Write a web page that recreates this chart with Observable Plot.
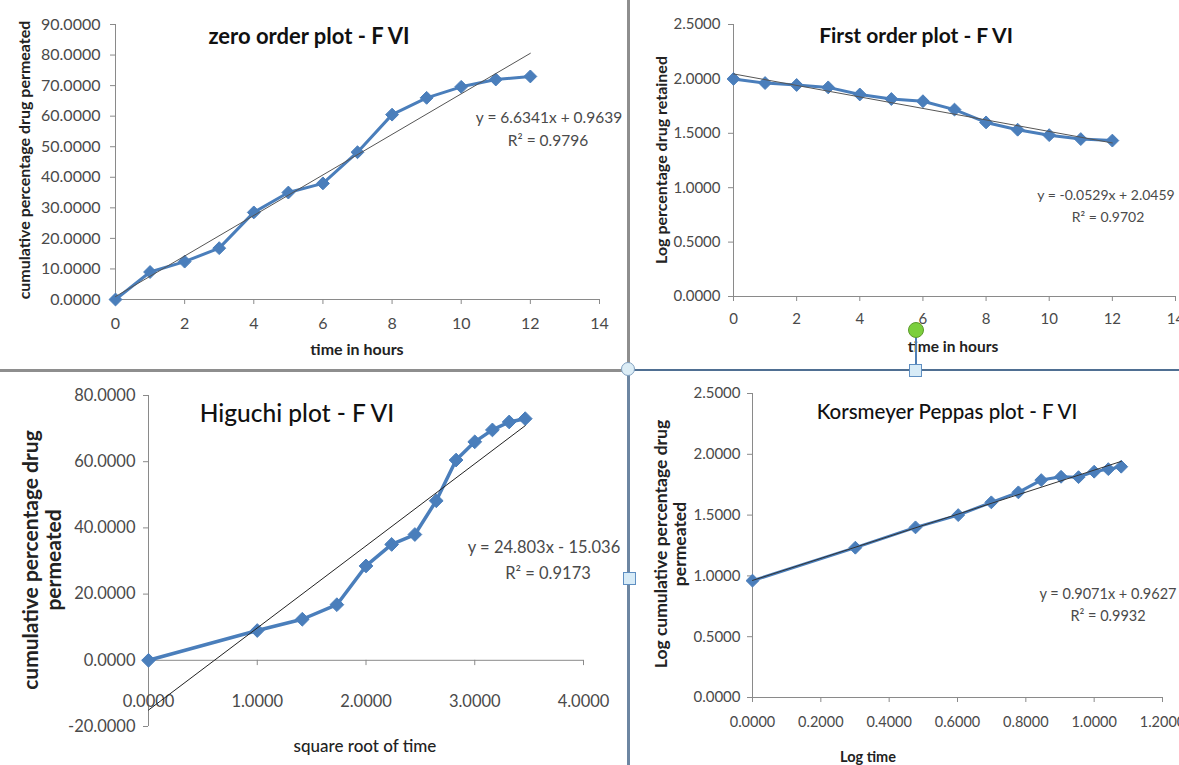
<!DOCTYPE html>
<html><head><meta charset="utf-8">
<script src="https://cdn.jsdelivr.net/npm/d3@7"></script>
<script src="https://cdn.jsdelivr.net/npm/@observablehq/plot@0.6"></script>
<style>
body{margin:0;background:#fff;}
#root{position:relative;width:1179px;height:765px;overflow:hidden;background:#fff;font-family:Lato,"Open Sans",sans-serif;color:#404040}
.t{position:absolute;white-space:nowrap;transform:translate(-50%,-50%);line-height:1.1;text-align:center}
.rot{transform:translate(-50%,-50%) rotate(-90deg)}
.pan{position:absolute}
.pan svg{overflow:visible}
.hl{position:absolute}
</style></head><body><div id="root"></div>
<script>
// ---- data ----
const hours = [0, 1, 2, 3, 4, 5, 6, 7, 8, 9, 10, 11, 12];
const cumPermeated = [0, 9.0, 12.4, 16.8, 28.5, 35.0, 38.0, 48.2, 60.5, 66.0, 69.6, 72.0, 73.0];
const logRetained = [2.000, 1.962, 1.944, 1.922, 1.857, 1.815, 1.795, 1.718, 1.600, 1.533, 1.483, 1.447, 1.433];
const sqrtTime = [0, 1.0000, 1.4142, 1.7321, 2.0000, 2.2361, 2.4495, 2.6458, 2.8284, 3.0000, 3.1623, 3.3166, 3.4641];
const logTime = [0.0000, 0.3010, 0.4771, 0.6021, 0.6990, 0.7782, 0.8451, 0.9031, 0.9542, 1.0000, 1.0414, 1.0792];
const logCumPermeated = [0.961, 1.232, 1.399, 1.500, 1.605, 1.687, 1.788, 1.815, 1.812, 1.857, 1.878, 1.898];
// trendline equations shown on the chart
const fitSlopes = [6.6341, -0.0529, 24.803, 0.9071];
const fitIntercepts = [0.9639, 2.0459, -15.036, 0.9627];
const fitR2 = ["0.9796", "0.9702", "0.9173", "0.9932"];
const titles = ["zero order plot - F VI", "First order plot - F VI", "Higuchi plot - F VI", "Korsmeyer Peppas plot - F VI"];
const equations = ["y = 6.6341x + 0.9639", "y = -0.0529x + 2.0459", "y = 24.803x - 15.036", "y = 0.9071x + 0.9627"];
const zeroTicksX = [0, 2, 4, 6, 8, 10, 12, 14];
const zeroTicksY = [0, 10, 20, 30, 40, 50, 60, 70, 80, 90];
const firstTicksY = [0, 0.5, 1.0, 1.5, 2.0, 2.5];
const higuchiTicksX = [0, 1, 2, 3, 4];
const higuchiTicksY = [-20, 0, 20, 40, 60, 80];
const kpTicksX = [0, 0.2, 0.4, 0.6, 0.8, 1.0, 1.2];
const kpTicksY = [0, 0.5, 1.0, 1.5, 2.0, 2.5];

const root = document.getElementById("root");
const BLUE = "#4a7ebb", AX = "#8a8a8a", TXT = "#4a4a4a";
const f4 = d => d.toFixed(4);

function addText(html, x, y, style, rot) {
  const d = document.createElement("div");
  d.className = "t" + (rot ? " rot" : "");
  d.innerHTML = html;
  d.style.left = x + "px"; d.style.top = y + "px";
  Object.assign(d.style, style || {});
  root.appendChild(d);
}

function panel(c) {
  const xs = c.xs, ys = c.ys, k = c.k;
  const data = xs.map((x, i) => ({x, y: ys[i]}));
  const xmin = d3.min(xs), xmax = d3.max(xs);
  const fit = [xmin, xmax].map(x => ({x, y: fitSlopes[k] * x + fitIntercepts[k]}));
  const marks = [
    Plot.ruleX([c.xDomain[0]], {y1: c.yDomain[0], y2: c.yDomain[1], stroke: AX}),
    Plot.ruleY([c.xAxisAt], {x1: c.xDomain[0], x2: c.xDomain[1], stroke: AX}),
    Plot.axisY({ticks: c.yTicks, tickFormat: f4, tickSize: 5, tickPadding: c.yPad, fontSize: c.yFs, stroke: AX, fill: TXT, label: null})
  ];
  if (c.xAxisAt === c.yDomain[0]) {
    marks.push(Plot.axisX({ticks: c.xTicks, tickFormat: c.xFmt, tickSize: 5, tickPadding: c.xPad, fontSize: c.xFs, stroke: AX, fill: TXT, label: null}));
  } else {
    marks.push(Plot.ruleX(c.xTicks, {x: d => d, y1: c.xAxisAt, y2: c.xAxisAt - c.tickLen, stroke: AX}));
    marks.push(Plot.text(c.xTicks, {x: d => d, y: c.xAxisAt, text: c.xFmt, dy: c.xPad, fontSize: c.xFs, fill: TXT}));
  }
  marks.push(
    Plot.line(data, {x: "x", y: "y", stroke: BLUE, strokeWidth: c.sw}),
    Plot.dot(data, {x: "x", y: "y", symbol: "diamond2", r: c.r, fill: BLUE, stroke: BLUE, strokeWidth: 1}),
    Plot.line(fit, {x: "x", y: "y", stroke: c.fitColor, strokeWidth: 1})
  );
  const svg = Plot.plot({
    width: c.box[2], height: c.box[3],
    marginLeft: c.frame[0] - c.box[0], marginRight: c.box[0] + c.box[2] - c.frame[1],
    marginTop: c.frame[2] - c.box[1], marginBottom: c.box[1] + c.box[3] - c.frame[3],
    x: {domain: c.xDomain, axis: null},
    y: {domain: c.yDomain, axis: null},
    style: {fontFamily: "Lato, 'Open Sans', sans-serif", background: "transparent", overflow: "visible"},
    marks
  });
  const wrap = document.createElement("div");
  wrap.className = "pan";
  wrap.style.left = c.box[0] + "px"; wrap.style.top = c.box[1] + "px";
  wrap.appendChild(svg);
  root.appendChild(wrap);
}

// box: [left, top, width, height]; frame: [xLeftPx, xRightPx, yTopPx, yBottomPx]
panel({k: 0, xs: hours, ys: cumPermeated, box: [0, 0, 627, 368], frame: [115, 599, 24, 299],
  xDomain: [0, 14], yDomain: [0, 90], xAxisAt: 0, xTicks: zeroTicksX, yTicks: zeroTicksY,
  xFmt: d => String(d), xPad: 13, yPad: 10, xFs: 16, yFs: 16, sw: 3, r: 5.8, fitColor: "#555"});
panel({k: 1, xs: hours, ys: logRetained, box: [631, 0, 548, 368], frame: [733, 1175, 24, 296],
  xDomain: [0, 14], yDomain: [0, 2.5], xAxisAt: 0, xTicks: zeroTicksX, yTicks: firstTicksY,
  xFmt: d => String(d), xPad: 12, yPad: 8, xFs: 15, yFs: 15, sw: 3, r: 5.8, fitColor: "#555"});
panel({k: 2, xs: sqrtTime, ys: cumPermeated, box: [0, 372, 627, 393], frame: [148, 583, 395, 726],
  xDomain: [0, 4], yDomain: [-20, 80], xAxisAt: 0, tickLen: 1.6, xTicks: higuchiTicksX, yTicks: higuchiTicksY,
  xFmt: f4, xPad: 41, yPad: 8, xFs: 16.5, yFs: 16.5, sw: 3.5, r: 6.2, fitColor: "#222"});
panel({k: 3, xs: logTime, ys: logCumPermeated, box: [631, 372, 548, 393], frame: [752, 1162, 393, 697],
  xDomain: [0, 1.2], yDomain: [0, 2.5], xAxisAt: 0, xTicks: kpTicksX, yTicks: kpTicksY,
  xFmt: f4, xPad: 14, yPad: 7, xFs: 14.5, yFs: 15, sw: 3, r: 5.8, fitColor: "#333"});

// ---- titles, axis titles, equations ----
addText(titles[0], 309, 36, {fontWeight: "700", color: "#111", fontSize: "22px"});
addText(titles[1], 916, 35, {fontWeight: "700", color: "#111", fontSize: "21px"});
addText(titles[2], 297, 413, {fontWeight: "500", color: "#111", fontSize: "24.5px"});
addText(titles[3], 947, 411, {fontWeight: "500", color: "#111", fontSize: "20.5px"});

addText("cumulative percentage drug permeated", 24, 160, {fontWeight: "700", color: "#222", fontSize: "16px"}, true);
addText("time in hours", 357, 349, {fontWeight: "700", color: "#222", fontSize: "16px"});
addText("Log percentage drug retained", 661, 160, {fontWeight: "700", color: "#222", fontSize: "16px"}, true);
addText("time in hours", 953, 347, {fontWeight: "700", color: "#222", fontSize: "15.5px"});
addText("cumulative percentage drug<br>permeated", 41, 560, {fontWeight: "700", color: "#222", fontSize: "21px"}, true);
addText("square root of time", 365, 746, {fontWeight: "500", color: "#222", fontSize: "17px"});
addText("Log cumulative percentage drug<br>permeated", 670, 544, {fontWeight: "700", color: "#222", fontSize: "17.5px"}, true);
addText("Log time", 868, 757, {fontWeight: "700", color: "#222", fontSize: "14.5px"});

addText(equations[0], 549, 118, {color: TXT, fontSize: "15.5px"});
addText("R² = " + fitR2[0], 548, 141, {color: TXT, fontSize: "15.5px"});
addText(equations[1], 1106, 195, {color: TXT, fontSize: "14px"});
addText("R² = " + fitR2[1], 1108, 217, {color: TXT, fontSize: "14px"});
addText(equations[2], 544, 547, {color: TXT, fontSize: "16.5px"});
addText("R² = " + fitR2[2], 548, 573, {color: TXT, fontSize: "16.5px"});
addText(equations[3], 1108, 594, {color: TXT, fontSize: "14.5px"});
addText("R² = " + fitR2[3], 1108, 616, {color: TXT, fontSize: "14.5px"});

// ---- slide dividers and selection handles ----
function box(css) { const d = document.createElement("div"); d.className = "hl"; Object.assign(d.style, css); root.appendChild(d); }
box({left: "0px", top: "369px", width: "629px", height: "3px", background: "#8e8e8e"});
box({left: "629px", top: "369px", width: "550px", height: "2px", background: "#4f6f92"});
box({left: "627px", top: "0px", width: "3px", height: "370px", background: "#8e8e8e"});
box({left: "627px", top: "370px", width: "3px", height: "395px", background: "#6d86a2"});
box({left: "915px", top: "336px", width: "2px", height: "30px", background: "#4f7fb5"});
box({left: "621px", top: "362px", width: "14px", height: "14px", borderRadius: "50%", background: "#dcedf6", border: "1.5px solid #7f9fbf", boxSizing: "border-box"});
box({left: "909px", top: "364px", width: "13px", height: "13px", background: "#d7ebf7", border: "1.5px solid #5f8fc2", boxSizing: "border-box"});
box({left: "908px", top: "322px", width: "16px", height: "16px", borderRadius: "50%", background: "#7ccf3c", border: "1px solid #5c9a2c", boxSizing: "border-box"});
box({left: "623px", top: "572px", width: "13px", height: "13px", background: "#d7ebf7", border: "1.5px solid #5f8fc2", boxSizing: "border-box"});
</script></body></html>
